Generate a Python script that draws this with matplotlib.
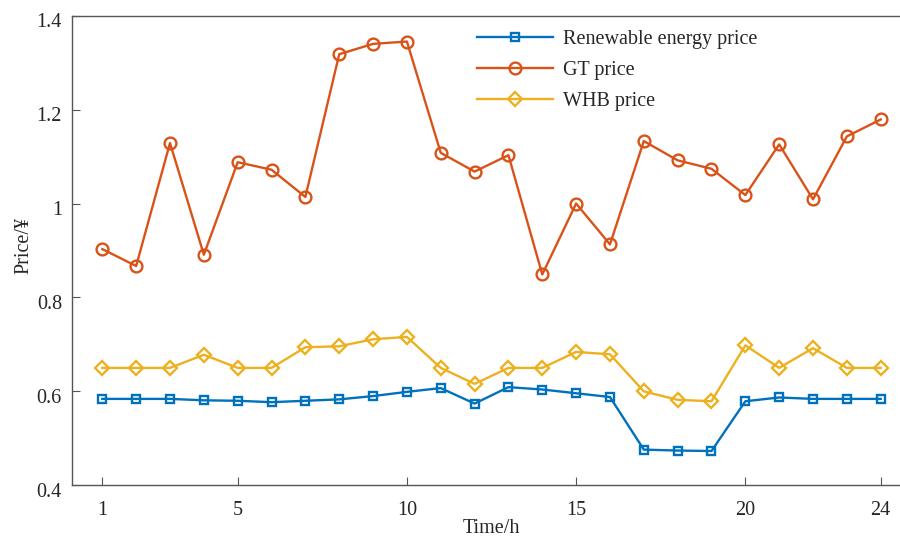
import matplotlib
matplotlib.use("Agg")
import matplotlib.pyplot as plt
import matplotlib.transforms as mtransforms

hours = list(range(1, 25))
renewable = [0.584, 0.584, 0.584, 0.581, 0.580, 0.577, 0.580, 0.583, 0.590, 0.599, 0.607, 0.574,
             0.609, 0.604, 0.596, 0.588, 0.476, 0.474, 0.473, 0.579, 0.587, 0.584, 0.584, 0.584]
gt = [0.903, 0.867, 1.129, 0.891, 1.088, 1.072, 1.014, 1.318, 1.340, 1.345, 1.108, 1.068,
      1.103, 0.849, 1.000, 0.913, 1.133, 1.092, 1.074, 1.018, 1.126, 1.009, 1.143, 1.179]
whb = [0.650, 0.650, 0.650, 0.678, 0.650, 0.650, 0.694, 0.696, 0.711, 0.716, 0.650, 0.616,
       0.650, 0.650, 0.684, 0.679, 0.600, 0.582, 0.579, 0.698, 0.650, 0.692, 0.650, 0.650]
labels = ["Renewable energy price", "GT price", "WHB price"]
xticks = [1, 5, 10, 15, 20, 24]
yticks = [0.4, 0.6, 0.8, 1.0, 1.2, 1.4]
yticklabels = ["0.4", "0.6", "0.8", "1", "1.2", "1.4"]

plt.rcParams['font.family'] = ['Liberation Serif', 'DejaVu Serif']
FS = 14.5

fig = plt.figure(figsize=(9, 5.37), dpi=100)
L, T, B = 72.3, 15.7, 485.3
ax = fig.add_axes([L/900, 1-B/537, 1-L/900, (B-T)/537])

c_blue, c_red, c_yel = '#0072BD', '#D95319', '#EDB120'
ax.plot(hours, renewable, '-s', color=c_blue, lw=1.7, ms=6, mfc='none', mew=1.7, label=labels[0])
ax.plot(hours, gt, '-o', color=c_red, lw=1.7, ms=8.5, mfc='none', mew=1.7, label=labels[1])
ax.plot(hours, whb, '-D', color=c_yel, lw=1.7, ms=7, mfc='none', mew=1.7, label=labels[2])

ax.set_xlim(0.113, 24.57)
ax.set_ylim(0.4, 1.4)
ax.set_xticks(xticks)
ax.set_yticks(yticks)
ax.set_yticklabels(yticklabels)
ax.tick_params(direction='in', length=6, width=0.8, colors='#555555', labelcolor='#262626',
               labelsize=FS)
ax.tick_params(axis='x', pad=11)
ax.tick_params(axis='y', pad=7.5)
offset = mtransforms.ScaledTranslation(0, -0.045, fig.dpi_scale_trans)
for lab in ax.get_yticklabels():
    lab.set_transform(lab.get_transform() + offset)
for s in ['left', 'bottom', 'top']:
    ax.spines[s].set_color('#555555')
    ax.spines[s].set_linewidth(1.0)
ax.spines['right'].set_visible(False)

W = 900 - L
ax.set_xlabel('Time/h', color='#262626', fontsize=FS)
ax.set_ylabel('Price/¥', color='#262626', fontsize=FS)
ax.xaxis.set_label_coords((491.5 - L) / W, -0.072)
ax.yaxis.set_label_coords((33 - L) / W, 0.51)

leg = ax.legend(loc='upper left', bbox_to_anchor=(477/900, 1-30/537), bbox_transform=fig.transFigure,
                frameon=False, handlelength=3.75, handletextpad=0.5, labelspacing=0.6,
                borderpad=0, borderaxespad=0, fontsize=FS)
for t in leg.get_texts():
    t.set_color('#262626')

fig.savefig('out.png', dpi=100)
